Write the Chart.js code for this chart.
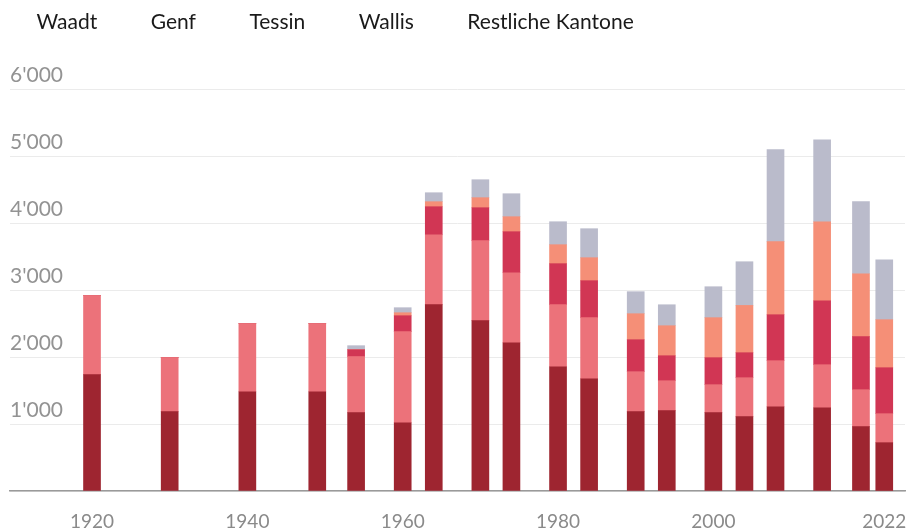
<!DOCTYPE html>
<html>
<head>
<meta charset="utf-8">
<script src="https://cdn.jsdelivr.net/npm/chart.js@4.4.1/dist/chart.umd.min.js"></script>
<style>
  html, body { margin: 0; padding: 0; background: #fff; }
  #wrap { width: 910px; height: 532px; }
</style>
</head>
<body>
<div id="wrap"><canvas id="chart" width="910" height="532"></canvas></div>
<script>
var years = [1920, 1930, 1940, 1949, 1954, 1960, 1964, 1970, 1974, 1980, 1984, 1990, 1994, 2000, 2004, 2008, 2014, 2019, 2022];
var xTickYears = [1920, 1940, 1960, 1980, 2000, 2022];

var waadt   = [1736, 1184, 1482, 1482, 1169, 1019, 2781, 2542, 2213, 1855, 1676, 1184, 1199, 1169, 1109, 1258, 1243, 960, 721];
var genf    = [1179, 806, 1015, 1015, 837, 1359, 1044, 1194, 1045, 926, 911, 597, 447, 418, 582, 687, 642, 552, 433];
var tessin  = [0, 0, 0, 0, 103, 238, 418, 492, 612, 612, 552, 477, 373, 403, 373, 686, 955, 791, 686];
var wallis  = [0, 0, 0, 0, 0, 45, 75, 150, 224, 283, 343, 388, 448, 597, 706, 1090, 1179, 940, 717];
var restliche = [0, 0, 0, 0, 60, 75, 134, 268, 343, 343, 433, 329, 313, 462, 652, 1373, 1224, 1075, 895];

var seriesNames = ['Waadt', 'Genf', 'Tessin', 'Wallis', 'Restliche Kantone'];
var seriesColors = ['#9e2530', '#ec727a', '#d13654', '#f58f77', '#babbcb'];
var seriesValues = [waadt, genf, tessin, wallis, restliche];

function toPoints(values) {
    return values.map(function (v, i) {
        return { x: years[i], y: v };
    });
}

function formatThousands(v) {
    // 1000 -> 1'000
    return String(v).replace(/\B(?=(\d{3})+(?!\d))/g, "'");
}

var datasets = seriesNames.map(function (name, i) {
    return {
        label: name,
        data: toPoints(seriesValues[i]),
        backgroundColor: seriesColors[i],
        borderWidth: 0,
        barThickness: 17
    };
});

// legend: extra space below, and moved a bit to the left
var legendTweak = {
    id: 'legendTweak',
    beforeInit: function (chart) {
        var originalFit = chart.legend.fit;
        chart.legend.fit = function () {
            originalFit.bind(chart.legend)();
            this.height += 46;
        };
    },
    afterLayout: function (chart) {
        chart.legend.left -= 27;
    }
};

var ctx = document.getElementById('chart').getContext('2d');
var chart = new Chart(ctx, {
    type: 'bar',
    data: { datasets: datasets },
    plugins: [legendTweak],
    options: {
        responsive: false,
        animation: false,
        devicePixelRatio: 1,
        layout: { padding: { left: 10, right: 5, top: 0, bottom: 1 } },
        plugins: {
            tooltip: { enabled: false },
            legend: {
                position: 'top',
                align: 'start',
                labels: {
                    color: '#1a1a1a',
                    font: { family: 'Lato', size: 21 },
                    boxWidth: 31,
                    boxHeight: 20,
                    padding: 12,
                    generateLabels: function (chart) {
                        return chart.data.datasets.map(function (ds, i) {
                            return {
                                text: ds.label,
                                fillStyle: 'rgba(0,0,0,0)',
                                strokeStyle: 'rgba(0,0,0,0)',
                                lineWidth: 0,
                                fontColor: '#1a1a1a',
                                hidden: false,
                                datasetIndex: i
                            };
                        });
                    }
                }
            }
        },
        scales: {
            x: {
                type: 'linear',
                stacked: true,
                offset: false,
                min: 1909.44,
                max: 2024.67,
                grid: { display: false, drawTicks: false },
                border: { display: true, color: '#9a9a9a', width: 1.5 },
                afterBuildTicks: function (scale) {
                    scale.ticks = xTickYears.map(function (y) { return { value: y }; });
                },
                afterFit: function (scale) {
                    scale.paddingLeft = 0;
                    scale.paddingRight = 0;
                    scale.height = 40;
                },
                ticks: {
                    color: '#8a8a8a',
                    font: { family: 'Lato', size: 19 },
                    padding: 19,
                    maxRotation: 0,
                    autoSkip: false,
                    callback: function (v) { return String(v); }
                }
            },
            y: {
                stacked: true,
                min: 0,
                max: 6000,
                grid: { color: '#ebebeb', lineWidth: 1, drawTicks: false },
                border: { display: false },
                afterFit: function (scale) {
                    scale.paddingTop = 0;
                    scale.paddingBottom = 0;
                },
                ticks: {
                    stepSize: 1000,
                    mirror: true,
                    padding: 0,
                    labelOffset: -14,
                    color: '#939393',
                    font: { family: 'Lato', size: 21 },
                    callback: function (v) { return v === 0 ? '' : formatThousands(v); }
                }
            }
        }
    }
});
</script>
</body>
</html>
